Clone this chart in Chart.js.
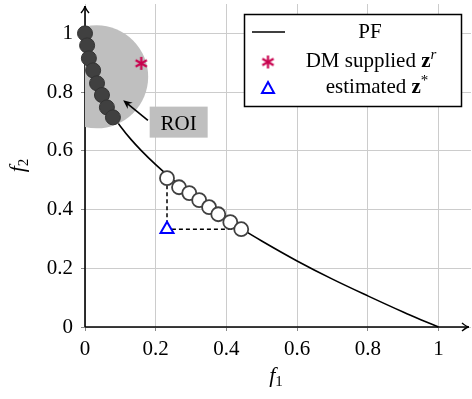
<!DOCTYPE html>
<html>
<head>
<meta charset="utf-8">
<script src="https://cdn.jsdelivr.net/npm/chart.js@4.4.1/dist/chart.umd.min.js"></script>
<style>
  html, body { margin: 0; padding: 0; background: #fff; }
</style>
</head>
<body>
<canvas id="chart" width="472" height="399"></canvas>
<script>
const pfX = [0, 0.005, 0.01, 0.02, 0.03, 0.05, 0.07, 0.1, 0.13, 0.16, 0.2, 0.25, 0.3, 0.35, 0.4, 0.45, 0.5, 0.6, 0.7, 0.8, 0.9, 0.95, 1];
const pfY = [1, 0.93, 0.90, 0.859, 0.827, 0.776, 0.735, 0.684, 0.639, 0.600, 0.553, 0.500, 0.452, 0.408, 0.368, 0.329, 0.293, 0.225, 0.163, 0.106, 0.051, 0.025, 0];

// solutions in the region of interest (dark dots)
const roiX = [0, 0.006, 0.011, 0.023, 0.034, 0.048, 0.062, 0.079];
const roiY = [1.0, 0.959, 0.915, 0.874, 0.830, 0.790, 0.748, 0.714];

// solutions used to estimate z* (open dots)
const solX = [0.232, 0.266, 0.295, 0.323, 0.351, 0.377, 0.411, 0.442];
const solY = [0.507, 0.476, 0.456, 0.432, 0.408, 0.384, 0.357, 0.333];

const refPoint = [0.159, 0.898];   // DM supplied z^r
const estPoint = [0.232, 0.333];   // estimated z*
const roiCenter = [0.033, 0.852];

const xTicks = [0, 0.2, 0.4, 0.6, 0.8, 1];
const yTicks = [0, 0.2, 0.4, 0.6, 0.8, 1];

const FONT = '"Liberation Serif", "DejaVu Serif", serif';
const RED = '#c8004e';

const pts = (xs, ys) => xs.map((v, i) => ({ x: v, y: ys[i] }));

// 6-armed asterisk used as point style
function makeStar(size, color) {
    const c = document.createElement('canvas');
    c.width = size; c.height = size;
    const g = c.getContext('2d');
    g.strokeStyle = color;
    g.lineWidth = 2.2;
    const m = size / 2, r = size / 2 - 1;
    for (let k = 0; k < 3; k++) {
        const a = Math.PI / 2 + k * Math.PI / 3;
        g.beginPath();
        g.moveTo(m + r * Math.cos(a), m + r * Math.sin(a));
        g.lineTo(m - r * Math.cos(a), m - r * Math.sin(a));
        g.stroke();
    }
    return c;
}
const starImg = makeStar(15, RED);

function openHead(ctx, x, y, ang, len, half) {
    ctx.beginPath();
    ctx.moveTo(x - len * Math.cos(ang) - half * Math.sin(ang), y - len * Math.sin(ang) + half * Math.cos(ang));
    ctx.quadraticCurveTo(x - len * 0.3 * Math.cos(ang), y - len * 0.3 * Math.sin(ang), x, y);
    ctx.quadraticCurveTo(x - len * 0.3 * Math.cos(ang), y - len * 0.3 * Math.sin(ang),
        x - len * Math.cos(ang) + half * Math.sin(ang), y - len * Math.sin(ang) - half * Math.cos(ang));
    ctx.stroke();
}

// draws the text pieces (string, font, dy) one after the other, centred on cx
function drawPieces(ctx, pieces, cx, baseY) {
    let w = 0;
    pieces.forEach(p => { ctx.font = p[1]; w += ctx.measureText(p[0]).width; });
    let x = cx - w / 2;
    ctx.textAlign = 'left';
    ctx.textBaseline = 'alphabetic';
    pieces.forEach(p => {
        ctx.font = p[1];
        ctx.fillText(p[0], x, baseY + (p[2] || 0));
        x += ctx.measureText(p[0]).width;
    });
}

const decor = {
    id: 'decor',
    beforeDatasetsDraw(chart) {
        const { ctx, chartArea: a, scales: { x, y } } = chart;
        const x0 = x.getPixelForValue(0), y0 = y.getPixelForValue(0);
        ctx.save();
        ctx.strokeStyle = '#000';
        ctx.lineWidth = 1.6;
        ctx.beginPath();
        ctx.moveTo(x0, y0); ctx.lineTo(a.right - 2, y0);
        ctx.moveTo(x0, y0); ctx.lineTo(x0, a.top + 2);
        ctx.stroke();
        ctx.lineWidth = 1.4;
        openHead(ctx, a.right - 2, y0, 0, 7, 4);
        openHead(ctx, x0, a.top + 2, -Math.PI / 2, 7, 4);
        ctx.restore();
    },
    afterDatasetsDraw(chart) {
        const { ctx, scales: { x, y } } = chart;
        ctx.save();
        // ROI label and arrow
        const lx = x.getPixelForValue(0.265), ly = y.getPixelForValue(0.696);
        ctx.fillStyle = '#bfbfbf';
        ctx.fillRect(lx - 29, ly - 16, 58, 31);
        ctx.fillStyle = '#000';
        drawPieces(ctx, [['ROI', '21px ' + FONT]], lx, ly + 7);
        const ax = x.getPixelForValue(0.178), ay = y.getPixelForValue(0.704);
        const bx = x.getPixelForValue(0.108), by = y.getPixelForValue(0.772);
        const ang = Math.atan2(by - ay, bx - ax);
        ctx.strokeStyle = '#000';
        ctx.lineWidth = 1.6;
        ctx.beginPath();
        ctx.moveTo(ax, ay);
        ctx.lineTo(bx - 5 * Math.cos(ang), by - 5 * Math.sin(ang));
        ctx.stroke();
        ctx.beginPath();
        ctx.moveTo(bx, by);
        ctx.lineTo(bx - 9 * Math.cos(ang) - 4 * Math.sin(ang), by - 9 * Math.sin(ang) + 4 * Math.cos(ang));
        ctx.lineTo(bx - 6 * Math.cos(ang), by - 6 * Math.sin(ang));
        ctx.lineTo(bx - 9 * Math.cos(ang) + 4 * Math.sin(ang), by - 9 * Math.sin(ang) - 4 * Math.cos(ang));
        ctx.closePath();
        ctx.fill();
        ctx.restore();
    },
    afterDraw(chart) {
        const { ctx, chartArea: a } = chart;
        ctx.save();
        ctx.fillStyle = '#000';
        // axis titles
        const cx = (a.left + a.right) / 2 - 2;
        drawPieces(ctx, [['f', 'italic 22px ' + FONT], ['1', '15px ' + FONT, 4]], cx, 382);
        ctx.translate(24, (a.top + a.bottom) / 2);
        ctx.rotate(-Math.PI / 2);
        drawPieces(ctx, [['f', 'italic 22px ' + FONT], ['2', '15px ' + FONT, 4]], 0, 0);
        ctx.setTransform(1, 0, 0, 1, 0, 0);

        // legend
        ctx.fillStyle = '#fff';
        ctx.fillRect(244.5, 14.5, 217, 92);
        ctx.strokeStyle = '#000';
        ctx.lineWidth = 1.5;
        ctx.strokeRect(244.5, 14.5, 217, 92);
        ctx.lineWidth = 1.6;
        ctx.beginPath(); ctx.moveTo(252, 32); ctx.lineTo(285, 32); ctx.stroke();
        ctx.drawImage(starImg, 268 - 7.5, 62 - 7.5);
        ctx.strokeStyle = '#0000ff';
        ctx.lineWidth = 2;
        ctx.beginPath();
        ctx.moveTo(268, 82); ctx.lineTo(274, 93); ctx.lineTo(262, 93); ctx.closePath();
        ctx.stroke();
        ctx.fillStyle = '#000';
        drawPieces(ctx, [['PF', '21px ' + FONT]], 370, 38);
        drawPieces(ctx, [['DM supplied ', '21px ' + FONT], ['z', 'bold 21px ' + FONT], ['r', 'italic 15px ' + FONT, -8]], 371, 67);
        drawPieces(ctx, [['estimated ', '21px ' + FONT], ['z', 'bold 21px ' + FONT], ['*', '15px ' + FONT, -8]], 377, 93);
        ctx.restore();
    }
};

new Chart(document.getElementById('chart'), {
    type: 'scatter',
    data: {
        datasets: [
            {   // Pareto front
                data: pts(pfX, pfY),
                showLine: true,
                borderColor: '#000',
                borderWidth: 1.6,
                pointRadius: 0,
                cubicInterpolationMode: 'monotone',
                clip: false,
                order: 6
            },
            {   // ROI disc
                data: [{ x: roiCenter[0], y: roiCenter[1] }],
                pointRadius: 51.5,
                backgroundColor: '#bfbfbf',
                borderWidth: 0,
                clip: 0,
                order: 5
            },
            {   // dashed guides to z*
                data: [
                    { x: solX[0], y: solY[0] },
                    { x: estPoint[0], y: estPoint[1] },
                    { x: solX[solX.length - 1], y: solY[solY.length - 1] }
                ],
                showLine: true,
                borderColor: '#000',
                borderWidth: 1.5,
                borderDash: [4, 3],
                pointRadius: 0,
                order: 4
            },
            {
                data: pts(roiX, roiY),
                pointRadius: 7.5,
                backgroundColor: '#404040',
                borderColor: '#333',
                borderWidth: 1,
                clip: false,
                order: 3
            },
            {
                data: pts(solX, solY),
                pointRadius: 7,
                backgroundColor: '#fff',
                borderColor: '#404040',
                borderWidth: 1.8,
                order: 2
            },
            {
                data: [{ x: refPoint[0], y: refPoint[1] }],
                pointStyle: starImg,
                order: 1
            },
            {
                data: [{ x: estPoint[0], y: estPoint[1] }],
                pointStyle: 'triangle',
                pointRadius: 7.5,
                backgroundColor: '#fff',
                borderColor: '#0000ff',
                borderWidth: 2,
                order: 0
            }
        ]
    },
    options: {
        responsive: false,
        animation: false,
        devicePixelRatio: 1,
        layout: { autoPadding: false, padding: { top: 4, right: 1, left: 0, bottom: 0 } },
        plugins: { legend: { display: false }, tooltip: { enabled: false } },
        scales: {
            x: {
                type: 'linear', min: 0, max: 1.092,
                afterBuildTicks: s => { s.ticks = xTicks.map(v => ({ value: v })); },
                afterFit: s => { s.height = 72; s.paddingLeft = 0; s.paddingRight = 0; },
                border: { display: false },
                grid: { color: '#cccccc', lineWidth: 1, tickLength: 4, tickColor: '#888' },
                ticks: { color: '#000', padding: 6, maxRotation: 0, font: { family: FONT, size: 21 }, callback: v => String(v) }
            },
            y: {
                type: 'linear', min: 0, max: 1.1,
                afterBuildTicks: s => { s.ticks = yTicks.map(v => ({ value: v })); },
                afterFit: s => { s.width = 85; s.paddingTop = 0; s.paddingBottom = 0; },
                border: { display: false },
                grid: { color: '#cccccc', lineWidth: 1, tickLength: 4, tickColor: '#888' },
                ticks: { color: '#000', padding: 8, font: { family: FONT, size: 21 }, callback: v => String(v) }
            }
        }
    },
    plugins: [decor]
});
</script>
</body>
</html>
